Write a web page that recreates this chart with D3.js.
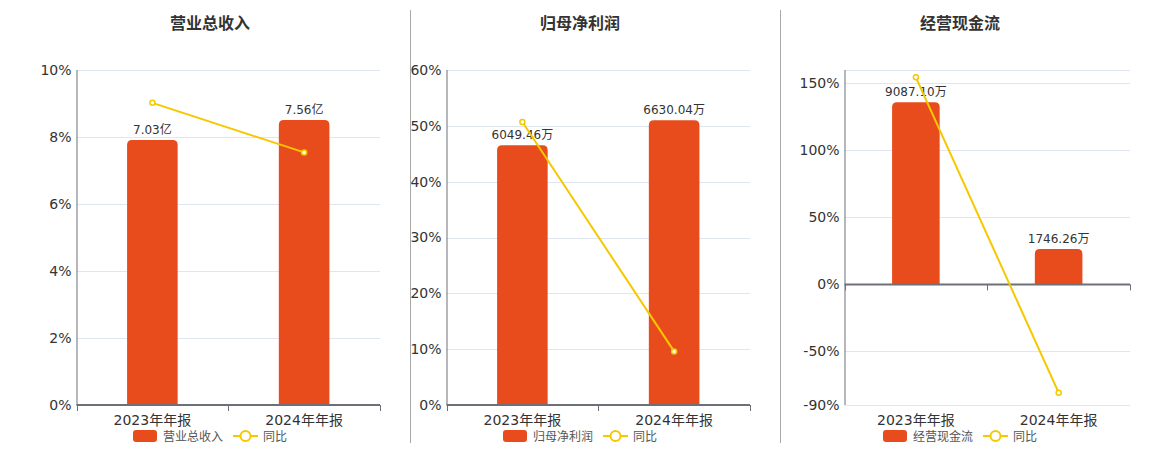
<!DOCTYPE html>
<html><head><meta charset="utf-8">
<script src="https://cdn.jsdelivr.net/npm/d3@7/dist/d3.min.js"></script>
<style>body{margin:0;background:#fff;}svg{display:block;}</style>
</head><body>
<svg id="c" width="1160" height="450"></svg>
<script>
const categories = ["2023年年报", "2024年年报"];
const titles = ["营业总收入", "归母净利润", "经营现金流"];
const units = ["亿", "万", "万"];
const revenue = [7.03, 7.56];
const netProfit = [6049.46, 6630.04];
const cashFlow = [9087.10, 1746.26];
const revenueYoY = [9.02, 7.54];
const netProfitYoY = [50.69, 9.60];
const cashFlowYoY = [154.5, -80.78];
const revenueTicks = [0, 2, 4, 6, 8, 10];
const netProfitTicks = [0, 10, 20, 30, 40, 50, 60];
const cashFlowTicks = [-90, -50, 0, 50, 100, 150];
const pctDomains = [[0, 10], [0, 60], [-90, 160]];
const barDomains = [[0, 8.89], [0, 7801], [-6051, 10703]];

const BAR = "#e84c1d", LINE = "#f5c800", AXIS = "#6e7079", GRID = "#e0e6f1", TXT = "#333";
const FONT = "'DejaVu Sans','Noto Sans CJK SC',sans-serif";

const panels = [
  {left: 76.5, right: 380, cx: 210, sep: null, bars: revenue, yoy: revenueYoY, ticks: revenueTicks},
  {left: 446.5, right: 750, cx: 580, sep: 410.5, bars: netProfit, yoy: netProfitYoY, ticks: netProfitTicks},
  {left: 844.5, right: 1130, cx: 960, sep: 780.5, bars: cashFlow, yoy: cashFlowYoY, ticks: cashFlowTicks}
];
const plotTop = 70, plotBottom = 405;
const svg = d3.select("#c").style("font-family", FONT);

function fmt(v) { return v.toFixed(2); }

panels.forEach((p, i) => {
  const g = svg.append("g");
  if (p.sep !== null) {
    g.append("line").attr("x1", p.sep).attr("x2", p.sep).attr("y1", 10).attr("y2", 443)
      .attr("stroke", "#a8a8a8").attr("stroke-width", 1);
  }
  g.append("text").attr("x", p.cx).attr("y", 29).attr("text-anchor", "middle")
    .attr("font-size", 16).attr("font-weight", "bold").attr("fill", TXT).text(titles[i]);

  const x = d3.scaleBand().domain(categories).range([p.left, p.right]);
  const y = d3.scaleLinear().domain(pctDomains[i]).range([plotBottom, plotTop]);
  const yb = d3.scaleLinear().domain(barDomains[i]).range([plotBottom, plotTop]);
  const y0 = y(0);

  // grid
  const gridVals = p.ticks.filter(t => t !== 0).concat(pctDomains[i][1] !== p.ticks[p.ticks.length - 1] ? [pctDomains[i][1]] : []);
  g.selectAll(".grid").data(gridVals).enter().append("line")
    .attr("x1", p.left).attr("x2", p.right)
    .attr("y1", d => Math.round(y(d)) + 0.5).attr("y2", d => Math.round(y(d)) + 0.5)
    .attr("stroke", GRID).attr("stroke-width", 1);

  // bars
  const bw = x.bandwidth() / 3;
  const r = 5;
  g.selectAll(".bar").data(p.bars).enter().append("path")
    .attr("fill", BAR)
    .attr("d", (d, j) => {
      const cx = x(categories[j]) + x.bandwidth() / 2;
      const x0 = cx - bw / 2, x1 = cx + bw / 2;
      const yt = yb(d), ybase = yb(0);
      return `M${x0},${ybase} L${x0},${yt + r} Q${x0},${yt} ${x0 + r},${yt} L${x1 - r},${yt} Q${x1},${yt} ${x1},${yt + r} L${x1},${ybase} Z`;
    });

  // bar labels
  g.selectAll(".blab").data(p.bars).enter().append("text")
    .attr("x", (d, j) => x(categories[j]) + x.bandwidth() / 2)
    .attr("y", d => yb(d) - 6)
    .attr("text-anchor", "middle").attr("font-size", 12).attr("fill", TXT)
    .text(d => fmt(d) + units[i]);

  // y axis
  const ya = d3.axisLeft(y).tickValues(p.ticks).tickSize(0).tickPadding(5).tickFormat(d => d + "%");
  const yg = g.append("g").attr("transform", `translate(${p.left},0)`).call(ya);
  yg.select(".domain").attr("stroke", AXIS).attr("d", `M0.5,${plotTop}V${plotBottom}`);
  yg.selectAll("text").attr("font-size", 14).attr("fill", TXT).attr("font-family", FONT);

  // x axis
  const xa = d3.axisBottom(x).tickSize(0).tickFormat(() => "");
  const xg = g.append("g").attr("transform", `translate(0,${y0})`).call(xa);
  xg.select(".domain").attr("stroke", AXIS).attr("stroke-width", 2).attr("d", `M${p.left},0H${p.right}`);
  const bounds = [p.left, p.left + x.bandwidth(), p.right];
  xg.selectAll(".btick").data(bounds).enter().append("line")
    .attr("x1", d => Math.round(d) + 0.5).attr("x2", d => Math.round(d) + 0.5)
    .attr("y1", 0).attr("y2", 6).attr("stroke", AXIS).attr("stroke-width", 1);
  g.selectAll(".xlab").data(categories).enter().append("text")
    .attr("x", d => x(d) + x.bandwidth() / 2).attr("y", 425)
    .attr("text-anchor", "middle").attr("font-size", 14).attr("fill", TXT).text(d => d);

  // line
  const line = d3.line().x((d, j) => x(categories[j]) + x.bandwidth() / 2).y(d => y(d));
  g.append("path").datum(p.yoy).attr("d", line).attr("fill", "none")
    .attr("stroke", LINE).attr("stroke-width", 2);
  g.selectAll(".pt").data(p.yoy).enter().append("circle")
    .attr("cx", (d, j) => x(categories[j]) + x.bandwidth() / 2).attr("cy", d => y(d))
    .attr("r", 2.5).attr("fill", "#fff").attr("stroke", LINE).attr("stroke-width", 1.5);

  // legend
  const lx = p.cx - 77;
  const lg = g.append("g");
  lg.append("rect").attr("x", lx).attr("y", 430).attr("width", 24).attr("height", 12).attr("rx", 3)
    .attr("fill", BAR);
  lg.append("text").attr("x", lx + 30).attr("y", 441).attr("font-size", 12).attr("fill", "#555").text(titles[i]);
  lg.append("line").attr("x1", lx + 100).attr("x2", lx + 125).attr("y1", 436).attr("y2", 436)
    .attr("stroke", LINE).attr("stroke-width", 2);
  lg.append("circle").attr("cx", lx + 112.5).attr("cy", 436).attr("r", 5).attr("fill", "#fff")
    .attr("stroke", LINE).attr("stroke-width", 2);
  lg.append("text").attr("x", lx + 130).attr("y", 441).attr("font-size", 12).attr("fill", "#555").text("同比");
});
</script>
</body></html>
